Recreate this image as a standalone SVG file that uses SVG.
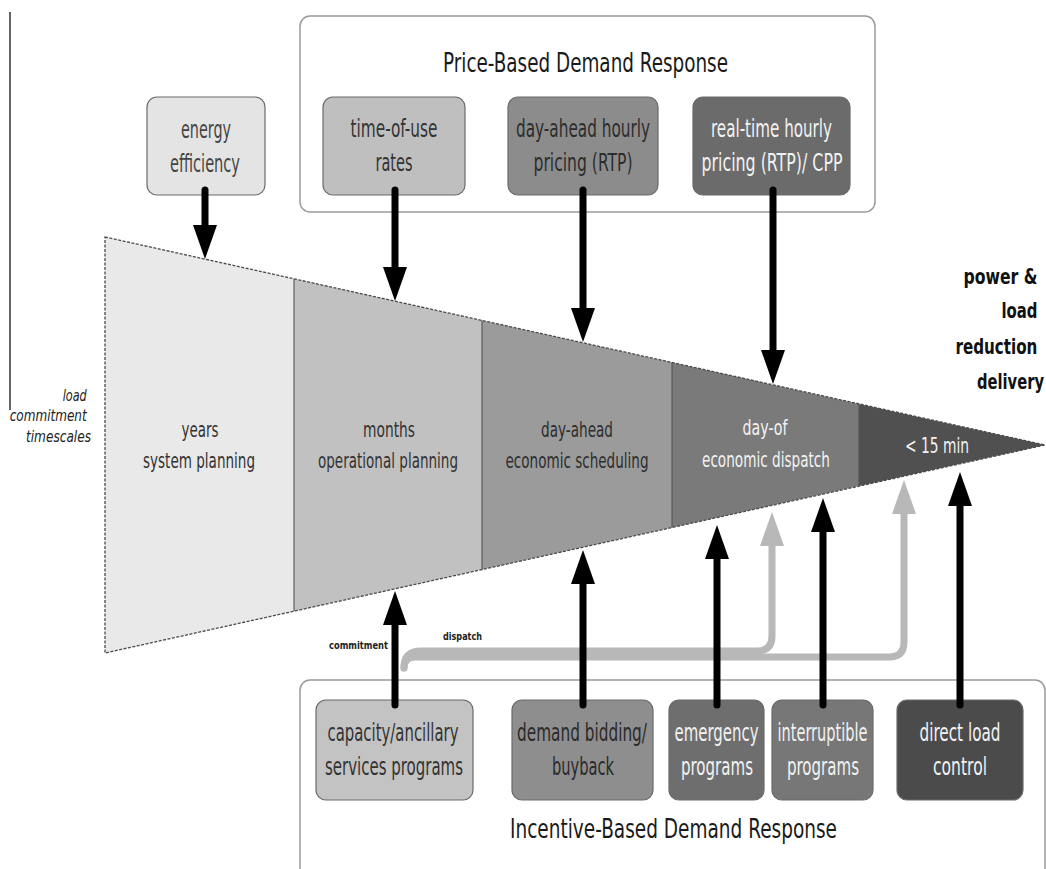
<svg xmlns="http://www.w3.org/2000/svg" width="1046" height="869" viewBox="0 0 1046 869">
<defs>
<style>
.t{font-family:"DejaVu Sans Condensed","DejaVu Sans",sans-serif;text-anchor:middle;}
.bx{font-size:24px;}
.fn{font-size:22px;}
.dk{fill:#333333;}
.lt{fill:#f2f2f2;}
.ttl{font-size:26px;fill:#1a1a1a;}
.grp{fill:#ffffff;stroke:#9a9a9a;stroke-width:1.5;}
.node{stroke:#6a6a6a;stroke-width:1.2;}
.blk{stroke:#000;stroke-width:7;fill:none;stroke-linecap:round;marker-end:url(#ah);}
.gry{stroke:#b8b8b8;stroke-width:7;fill:none;stroke-linecap:round;}
.sec{stroke:none;}
.div{stroke:#555;stroke-width:1.1;}
</style>
<marker id="ah" markerUnits="userSpaceOnUse" markerWidth="34" markerHeight="24" viewBox="0 0 34 24" refX="3" refY="12" orient="auto">
<path d="M0,0 L34,12 L0,24 Z" fill="#000"/>
</marker>
<marker id="ahg" markerUnits="userSpaceOnUse" markerWidth="34" markerHeight="24" viewBox="0 0 34 24" refX="3" refY="12" orient="auto">
<path d="M0,0 L34,12 L0,24 Z" fill="#b8b8b8"/>
</marker>
</defs>
<rect width="1046" height="869" fill="#ffffff"/>

<g id="axis-label">
<line x1="10" y1="12" x2="10" y2="410" stroke="#333" stroke-width="1.5"/>
<text class="t" font-size="15" font-style="italic" fill="#222" style="text-anchor:end">
<tspan x="91" y="401" textLength="24" lengthAdjust="spacingAndGlyphs">load</tspan>
<tspan x="91" y="421" textLength="77" lengthAdjust="spacingAndGlyphs">commitment</tspan>
<tspan x="91" y="442" textLength="65" lengthAdjust="spacingAndGlyphs">timescales</tspan>
</text>
</g>

<g id="funnel">
<polygon class="sec" points="105,237 294,278.8 294,611.2 105,653" fill="#e9e9e9"/>
<polygon class="sec" points="294,278.8 482,320.4 482,569.6 294,611.2" fill="#c1c1c1"/>
<polygon class="sec" points="482,320.4 672,362.5 672,527.5 482,569.6" fill="#9b9b9b"/>
<polygon class="sec" points="672,362.5 859,403.9 859,486.1 672,527.5" fill="#7a7a7a"/>
<polygon class="sec" points="859,403.9 1045,445 859,486.1" fill="#505050"/>
<line class="div" x1="294" y1="278.8" x2="294" y2="611.2"/>
<line class="div" x1="482" y1="320.4" x2="482" y2="569.6"/>
<line class="div" x1="672" y1="362.5" x2="672" y2="527.5"/>
<line class="div" x1="859" y1="403.9" x2="859" y2="486.1"/>
<polygon points="105,237 1045,445 105,653" fill="none" stroke="#4a4a4a" stroke-width="1.3" stroke-dasharray="3 1.5"/>
</g>
<g id="sec-years"><text class="t fn dk"><tspan x="200" y="437" textLength="37" lengthAdjust="spacingAndGlyphs">years</tspan><tspan x="199" y="468" textLength="112" lengthAdjust="spacingAndGlyphs">system planning</tspan></text></g>
<g id="sec-months"><text class="t fn dk"><tspan x="389" y="437" textLength="52" lengthAdjust="spacingAndGlyphs">months</tspan><tspan x="388" y="468" textLength="140" lengthAdjust="spacingAndGlyphs">operational planning</tspan></text></g>
<g id="sec-dayahead"><text class="t fn" fill="#2e2e2e"><tspan x="577" y="437" textLength="72" lengthAdjust="spacingAndGlyphs">day-ahead</tspan><tspan x="577" y="468" textLength="143" lengthAdjust="spacingAndGlyphs">economic scheduling</tspan></text></g>
<g id="sec-dayof"><text class="t fn lt"><tspan x="765" y="435" textLength="45" lengthAdjust="spacingAndGlyphs">day-of</tspan><tspan x="766" y="467" textLength="128" lengthAdjust="spacingAndGlyphs">economic dispatch</tspan></text></g>
<g id="sec-15min"><text class="t fn lt" x="937" y="453" textLength="64" lengthAdjust="spacingAndGlyphs">&lt; 15 min</text></g>

<g id="delivery-label">
<text class="t" font-size="21" font-weight="bold" fill="#111" style="text-anchor:end">
<tspan x="1044" y="284" textLength="74" lengthAdjust="spacingAndGlyphs">power &amp;</tspan>
<tspan x="1044" y="318" textLength="36" lengthAdjust="spacingAndGlyphs">load</tspan>
<tspan x="1044" y="354" textLength="82" lengthAdjust="spacingAndGlyphs">reduction</tspan>
<tspan x="1044" y="389" textLength="67" lengthAdjust="spacingAndGlyphs">delivery</tspan>
</text>
</g>

<g id="energy-efficiency">
<rect class="node" x="147" y="97" width="118" height="98" rx="10" fill="#e4e4e4"/>
<text class="t bx" fill="#444"><tspan x="206" y="138" textLength="50" lengthAdjust="spacingAndGlyphs">energy</tspan><tspan x="205" y="172" textLength="70" lengthAdjust="spacingAndGlyphs">efficiency</tspan></text>
</g>

<g id="price-based">
<rect class="grp" x="300" y="16" width="575" height="196" rx="10"/>
<text class="t ttl" x="585.5" y="72" textLength="285" lengthAdjust="spacingAndGlyphs">Price-Based Demand Response</text>
</g>
<g id="time-of-use">
<rect class="node" x="323" y="97" width="142" height="98" rx="10" fill="#bfbfbf"/>
<text class="t bx dk"><tspan x="394" y="137" textLength="87" lengthAdjust="spacingAndGlyphs">time-of-use</tspan><tspan x="394" y="171" textLength="37" lengthAdjust="spacingAndGlyphs">rates</tspan></text>
</g>
<g id="day-ahead-rtp">
<rect class="node" x="508" y="97" width="150" height="98" rx="10" fill="#8c8c8c"/>
<text class="t bx" fill="#2c2c2c"><tspan x="583" y="137" textLength="134" lengthAdjust="spacingAndGlyphs">day-ahead hourly</tspan><tspan x="583" y="171" textLength="99" lengthAdjust="spacingAndGlyphs">pricing (RTP)</tspan></text>
</g>
<g id="real-time-rtp">
<rect class="node" x="693" y="97" width="157" height="98" rx="10" fill="#6b6b6b"/>
<text class="t bx lt"><tspan x="771.5" y="137" textLength="121" lengthAdjust="spacingAndGlyphs">real-time hourly</tspan><tspan x="772" y="171" textLength="141" lengthAdjust="spacingAndGlyphs">pricing (RTP)/ CPP</tspan></text>
</g>

<g id="incentive-based">
<rect class="grp" x="300" y="680" width="745" height="210" rx="10"/>
<text class="t ttl" x="673.5" y="838" textLength="327" lengthAdjust="spacingAndGlyphs">Incentive-Based Demand Response</text>
</g>
<g id="capacity">
<rect class="node" x="316" y="700" width="157" height="100" rx="10" fill="#c3c3c3"/>
<text class="t bx dk"><tspan x="393" y="741" textLength="131" lengthAdjust="spacingAndGlyphs">capacity/ancillary</tspan><tspan x="394" y="775" textLength="138" lengthAdjust="spacingAndGlyphs">services programs</tspan></text>
</g>
<g id="demand-bidding">
<rect class="node" x="512" y="700" width="141" height="100" rx="10" fill="#8e8e8e"/>
<text class="t bx" fill="#2a2a2a"><tspan x="582" y="741" textLength="130" lengthAdjust="spacingAndGlyphs">demand bidding/</tspan><tspan x="583" y="775" textLength="62" lengthAdjust="spacingAndGlyphs">buyback</tspan></text>
</g>
<g id="emergency">
<rect class="node" x="669" y="700" width="95" height="100" rx="10" fill="#6e6e6e"/>
<text class="t bx lt"><tspan x="716.5" y="741" textLength="84" lengthAdjust="spacingAndGlyphs">emergency</tspan><tspan x="717" y="775" textLength="72" lengthAdjust="spacingAndGlyphs">programs</tspan></text>
</g>
<g id="interruptible">
<rect class="node" x="772" y="700" width="101" height="100" rx="10" fill="#777777"/>
<text class="t bx lt"><tspan x="822.5" y="741" textLength="90" lengthAdjust="spacingAndGlyphs">interruptible</tspan><tspan x="823" y="775" textLength="72" lengthAdjust="spacingAndGlyphs">programs</tspan></text>
</g>
<g id="direct-load">
<rect class="node" x="897" y="700" width="126" height="100" rx="10" fill="#4b4b4b"/>
<text class="t bx lt"><tspan x="960" y="741" textLength="81" lengthAdjust="spacingAndGlyphs">direct load</tspan><tspan x="960" y="775" textLength="54" lengthAdjust="spacingAndGlyphs">control</tspan></text>
</g>

<g id="connectors">
<path class="gry" d="M404,668 Q404,651 421,651 L757,651 Q772,651 772,636 L772,543" marker-end="url(#ahg)"/>
<path class="gry" d="M404,668 Q404,657 415,657 L889,657 Q904,657 904,642 L904,511" marker-end="url(#ahg)"/>
<line class="blk" x1="205" y1="190" x2="205" y2="228"/>
<line class="blk" x1="395" y1="190" x2="395" y2="270"/>
<line class="blk" x1="583" y1="190" x2="583" y2="311"/>
<line class="blk" x1="773" y1="190" x2="773" y2="353"/>
<line class="blk" x1="395" y1="705" x2="395" y2="622"/>
<line class="blk" x1="583" y1="705" x2="583" y2="581"/>
<line class="blk" x1="717" y1="705" x2="717" y2="556"/>
<line class="blk" x1="823" y1="705" x2="823" y2="529"/>
<line class="blk" x1="960" y1="705" x2="960" y2="503"/>
<text class="t" font-size="11" font-weight="bold" fill="#222" x="358.5" y="649" textLength="59" lengthAdjust="spacingAndGlyphs">commitment</text>
<text class="t" font-size="11" font-weight="bold" fill="#222" x="462.5" y="640" textLength="39" lengthAdjust="spacingAndGlyphs">dispatch</text>
</g>
</svg>
